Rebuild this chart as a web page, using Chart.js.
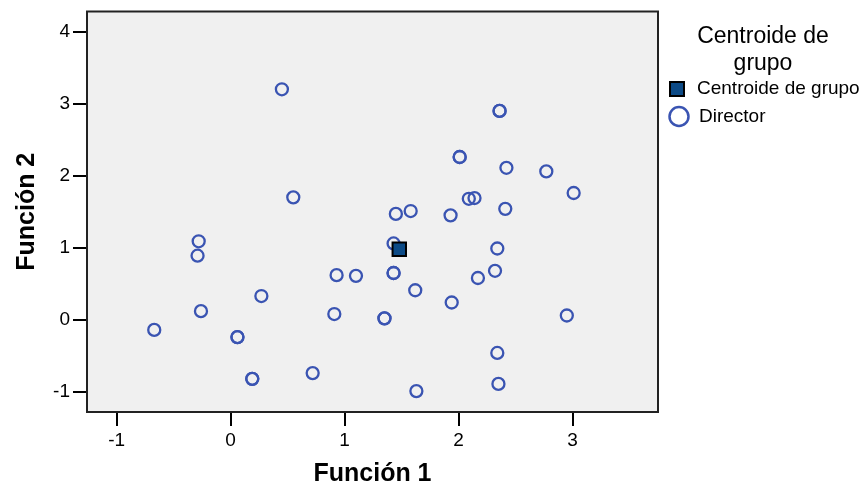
<!DOCTYPE html>
<html>
<head>
<meta charset="utf-8">
<script src="https://cdn.jsdelivr.net/npm/chart.js@4.4.0/dist/chart.umd.min.js"></script>
<style>
  html, body { margin: 0; padding: 0; background: #fff; }
  #wrap { width: 867px; height: 492px; }
</style>
</head>
<body>
<div id="wrap"><canvas id="diagram" width="867" height="492"></canvas></div>
<script>
// Función 1 / Función 2 scores per case (repeated pairs are overlapping cases)
const dirX = [0.45, 0.55, -0.28, -0.29, -0.67, -0.26, 0.06, 0.06, 0.27, 0.19, 0.19, 0.72,
              0.93, 1.10, 0.91, 1.35, 1.35, 1.43, 1.43, 1.43, 1.45, 1.58, 1.62, 1.63,
              1.93, 1.94, 2.01, 2.01, 2.09, 2.14, 2.17, 2.32, 2.34, 2.34, 2.35,
              2.36, 2.36, 2.42, 2.41, 2.77, 2.95, 3.01];
const dirY = [3.20, 1.70, 1.09, 0.89, -0.14, 0.12, -0.24, -0.24, 0.33, -0.82, -0.82, -0.74,
              0.62, 0.61, 0.08, 0.02, 0.02, 1.06, 0.65, 0.65, 1.47, 1.51, 0.41, -0.99,
              1.45, 0.24, 2.26, 2.26, 1.68, 1.69, 0.58, 0.68, 0.99, -0.46, -0.89,
              2.90, 2.90, 2.11, 1.54, 2.06, 0.06, 1.76];
const centX = [1.48];
const centY = [0.98];

const xTicks = [-1, 0, 1, 2, 3];
const yTicks = [-1, 0, 1, 2, 3, 4];
const seriesNames = ['Centroide de grupo', 'Director'];
const legendTitle = ['Centroide de', 'grupo'];

const FONT = '"Liberation Sans", Arial, Helvetica, sans-serif';

const toPoints = (xs, ys) => xs.map((x, i) => ({ x: x, y: ys[i] }));

const frame = {
    id: 'frame',
    beforeDraw(chart) {
        const a = chart.chartArea, ctx = chart.ctx;
        ctx.save();
        ctx.fillStyle = '#f0f0f0';
        ctx.fillRect(a.left, a.top, a.right - a.left, a.bottom - a.top);
        ctx.restore();
    },
    afterDraw(chart) {
        const a = chart.chartArea, ctx = chart.ctx;
        ctx.save();
        ctx.strokeStyle = '#222';
        ctx.lineWidth = 2;
        ctx.strokeRect(a.left, a.top, a.right - a.left, a.bottom - a.top);
        ctx.restore();
    }
};

const sideLegend = {
    id: 'sideLegend',
    afterDraw(chart) {
        const a = chart.chartArea, ctx = chart.ctx;
        const ds = chart.data.datasets;
        ctx.save();
        ctx.fillStyle = '#000';
        ctx.textBaseline = 'alphabetic';
        ctx.textAlign = 'center';
        ctx.font = '23px ' + FONT;
        ctx.fillText(legendTitle[0], a.right + 105, 43);
        ctx.fillText(legendTitle[1], a.right + 105, 70);

        // square marker
        ctx.fillStyle = ds[0].backgroundColor;
        ctx.strokeStyle = ds[0].borderColor;
        ctx.lineWidth = 2;
        ctx.fillRect(a.right + 12, 82, 14, 14);
        ctx.strokeRect(a.right + 12, 82, 14, 14);

        // circle marker
        ctx.strokeStyle = ds[1].borderColor;
        ctx.lineWidth = 2.5;
        ctx.beginPath();
        ctx.arc(a.right + 21, 116.5, 9.5, 0, Math.PI * 2);
        ctx.stroke();

        ctx.fillStyle = '#000';
        ctx.textAlign = 'left';
        ctx.font = '19px ' + FONT;
        ctx.fillText(seriesNames[0], a.right + 39, 94);
        ctx.fillText(seriesNames[1], a.right + 41, 122);
        ctx.restore();
    }
};

const diagram = document.getElementById('diagram').getContext('2d');
const myChart = new Chart(diagram, {
    type: 'scatter',
    data: {
        datasets: [{
            label: seriesNames[0],
            data: toPoints(centX, centY),
            pointStyle: 'rect',
            pointRadius: 9.5,
            pointHoverRadius: 9.5,
            backgroundColor: '#0c4a86',
            borderColor: '#000000',
            borderWidth: 2
        }, {
            label: seriesNames[1],
            data: toPoints(dirX, dirY),
            pointStyle: 'circle',
            pointRadius: 6,
            pointHoverRadius: 6,
            backgroundColor: 'rgba(0,0,0,0)',
            borderColor: '#3a54b2',
            borderWidth: 2.3
        }]
    },
    options: {
        responsive: false,
        animation: false,
        events: [],
        layout: { padding: { left: 0, top: 11, right: 209, bottom: 0 } },
        plugins: {
            legend: { display: false },
            tooltip: { enabled: false }
        },
        scales: {
            x: {
                type: 'linear',
                min: -1.26,
                max: 3.75,
                afterBuildTicks: (scale) => { scale.ticks = xTicks.map(v => ({ value: v })); },
                afterFit: (scale) => { scale.height = 80; },
                border: { display: false },
                grid: { drawOnChartArea: false, drawTicks: true, tickLength: 14, color: '#000', lineWidth: 2 },
                ticks: { color: '#000', padding: 3, font: { family: FONT, size: 19 }, maxRotation: 0 },
                title: {
                    display: true,
                    text: 'Función 1',
                    color: '#000',
                    font: { family: FONT, size: 25, weight: 'bold' },
                    padding: { top: 0, bottom: 3 }
                }
            },
            y: {
                type: 'linear',
                min: -1.28,
                max: 4.28,
                afterBuildTicks: (scale) => { scale.ticks = yTicks.map(v => ({ value: v })); },
                afterFit: (scale) => { scale.width = 87; scale.paddingTop = 0; scale.paddingBottom = 0; },
                border: { display: false },
                grid: { drawOnChartArea: false, drawTicks: true, tickLength: 14, color: '#000', lineWidth: 2 },
                ticks: { color: '#000', padding: 3, font: { family: FONT, size: 19 } },
                title: {
                    display: true,
                    text: 'Función 2',
                    color: '#000',
                    font: { family: FONT, size: 25, weight: 'bold' },
                    padding: { top: 12, bottom: 0 }
                }
            }
        }
    },
    plugins: [frame, sideLegend]
});
</script>
</body>
</html>
